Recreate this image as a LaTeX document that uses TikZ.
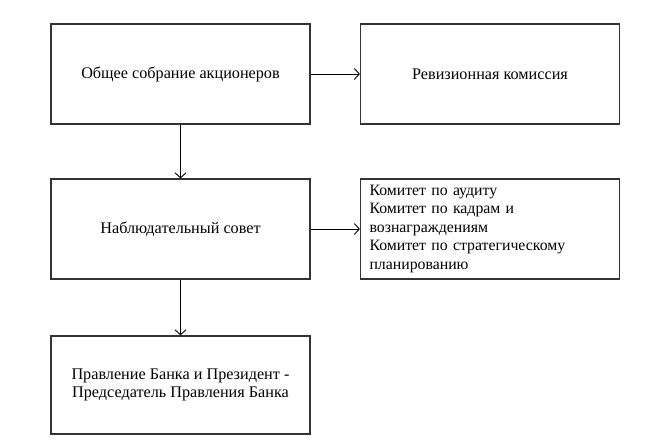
\documentclass[tikz,border=0pt]{standalone}
\usepackage{fontspec}
\setmainfont{Liberation Serif}
\usepackage{tikz}
\usetikzlibrary{arrows.meta}

\begin{document}
\begin{tikzpicture}[x=1pt, y=1pt,
  box/.style={draw=black!80, line width=1.2pt, minimum width=259pt, minimum height=100pt, inner sep=0pt, align=center, font=\fontsize{16.2}{18.5}\selectfont},
  list/.style={box, align=left, text width=241pt, inner xsep=9pt},
  link/.style={-{Straight Barb[length=5pt, width=11pt]}, line width=0.9pt}]
\useasboundingbox (0,0) rectangle (647,447);

\node[box] (meeting) at (180.5,373) {Общее собрание акционеров};
\node[box] (audit) at (490,373) {Ревизионная комиссия};
\node[box] (board) at (180.5,218) {Наблюдательный совет};
\node[list, font=\fontsize{15.8}{18.5}\selectfont] (committees) at (490,218) {Комитет по аудиту\\Комитет по кадрам и\\вознаграждениям\\Комитет по стратегическому\\планированию};
\node[box, minimum height=98pt] (management) at (180.5,62) {Правление Банка и Президент -\\Председатель Правления Банка};

\draw[link] (meeting) -- (audit);
\draw[link] (meeting) -- (board);
\draw[link] (board) -- (committees);
\draw[link] (board) -- (management);
\end{tikzpicture}
\end{document}
